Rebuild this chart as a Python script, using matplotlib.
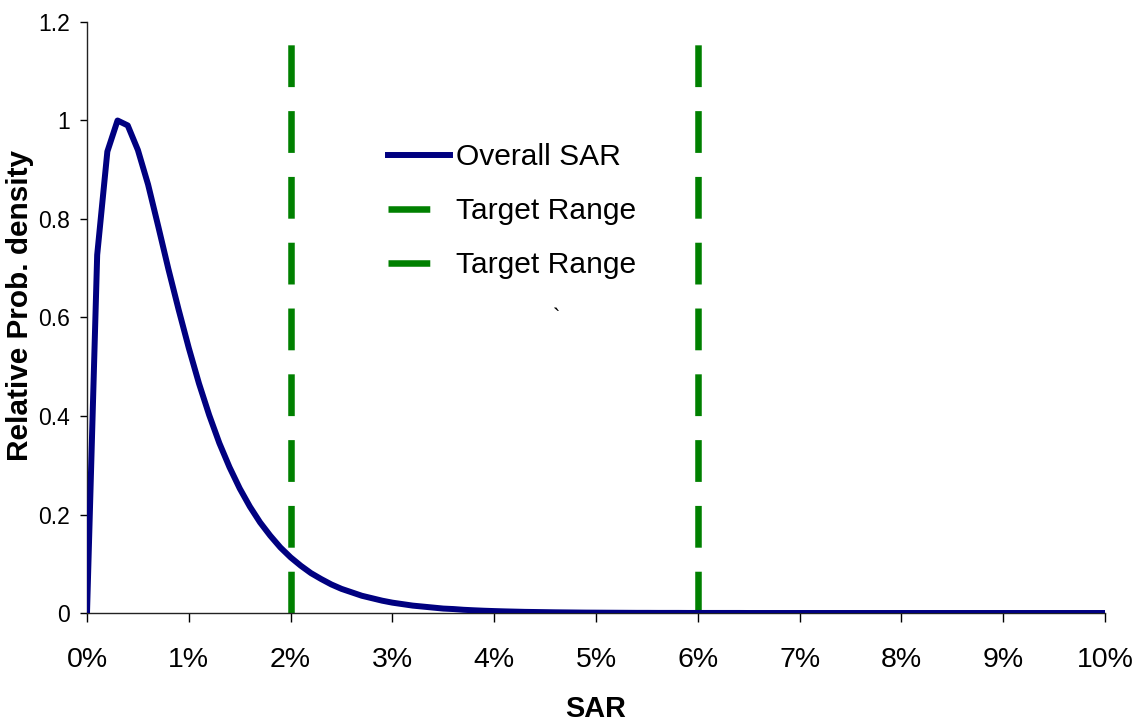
import numpy as np
import matplotlib
matplotlib.use("Agg")
import matplotlib.pyplot as plt
from matplotlib.ticker import FuncFormatter, MultipleLocator

plt.rcParams['font.family'] = ['Liberation Sans', 'DejaVu Sans']

# SAR grid in percent, 0.1% steps
sar_pct = np.round(np.arange(0, 101) * 0.1, 1)
# relative probability density
density = [
    0.0, 0.727, 0.937, 1.0, 0.99, 0.94, 0.87, 0.785, 0.698, 0.616,
    0.538, 0.466, 0.402, 0.345, 0.296, 0.253, 0.216, 0.184, 0.157, 0.133,
    0.113, 0.096, 0.081, 0.069, 0.058, 0.049, 0.042, 0.035, 0.030, 0.025,
    0.021, 0.018, 0.015, 0.013, 0.011, 0.009, 0.008, 0.0065, 0.0055, 0.0046,
    0.0039, 0.0033, 0.0028, 0.0023, 0.0020, 0.0017, 0.0014, 0.0012, 0.0010, 0.0008,
    0.0007, 0.0006, 0.0005, 0.0004, 0.0003, 0.0003, 0.0002, 0.0002, 0.0002, 0.0001,
    0.0001, 0.0001, 0.0001, 0.0001, 0.0001, 0.0, 0.0, 0.0, 0.0, 0.0,
    0.0, 0.0, 0.0, 0.0, 0.0, 0.0, 0.0, 0.0, 0.0, 0.0,
    0.0, 0.0, 0.0, 0.0, 0.0, 0.0, 0.0, 0.0, 0.0, 0.0,
    0.0, 0.0, 0.0, 0.0, 0.0, 0.0, 0.0, 0.0, 0.0, 0.0,
    0.0,
]
target_lo = 2.0
target_hi = 6.0
y_top = 1.2

fig = plt.figure(figsize=(11.39, 7.22), dpi=100)
ax = fig.add_axes([87 / 1139, 109 / 722, 1018 / 1139, 591 / 722])

ax.plot(sar_pct, density, color='#000080', lw=4.3, label='Overall SAR', zorder=3)
for xv in (target_lo, target_hi):
    ax.plot([xv, xv], [0, y_top], color='#008000', lw=4.7,
            dashes=(6.4, 3.68), label='Target Range', zorder=2)

ax.text(4.61, 0.598, '`', fontsize=16, ha='center', va='center')

ax.set_xlim(0, 10)
ax.set_ylim(0, 1.2)
ax.xaxis.set_major_locator(MultipleLocator(1))
ax.yaxis.set_major_locator(MultipleLocator(0.2))
ax.xaxis.set_major_formatter(FuncFormatter(lambda v, p: f"{v:.0f}%"))
ax.yaxis.set_major_formatter(FuncFormatter(lambda v, p: f"{v:g}"))

for s in ('top', 'right'):
    ax.spines[s].set_visible(False)
for s in ('left', 'bottom'):
    ax.spines[s].set_linewidth(1.0)
    ax.spines[s].set_color('#222222')
ax.tick_params(axis='x', direction='out', length=6.5, width=1, labelsize=20.5, pad=18)
ax.tick_params(axis='y', direction='out', length=5, width=1, labelsize=16.5, pad=7)

ax.set_xlabel('SAR', fontsize=20.8, fontweight='bold', labelpad=16)
ax.set_ylabel('Relative Prob. density', fontsize=21.4, fontweight='bold', labelpad=3)
ax.yaxis.label.set_y(0.521)

leg = ax.legend(loc='upper left', bbox_to_anchor=(388 / 1139, 1 - 143 / 722),
                bbox_transform=fig.transFigure, frameon=False, fontsize=21.6,
                handlelength=2.05, handletextpad=0.2, labelspacing=0.87,
                borderpad=0, borderaxespad=0)

fig.savefig('out.png', dpi=100)
